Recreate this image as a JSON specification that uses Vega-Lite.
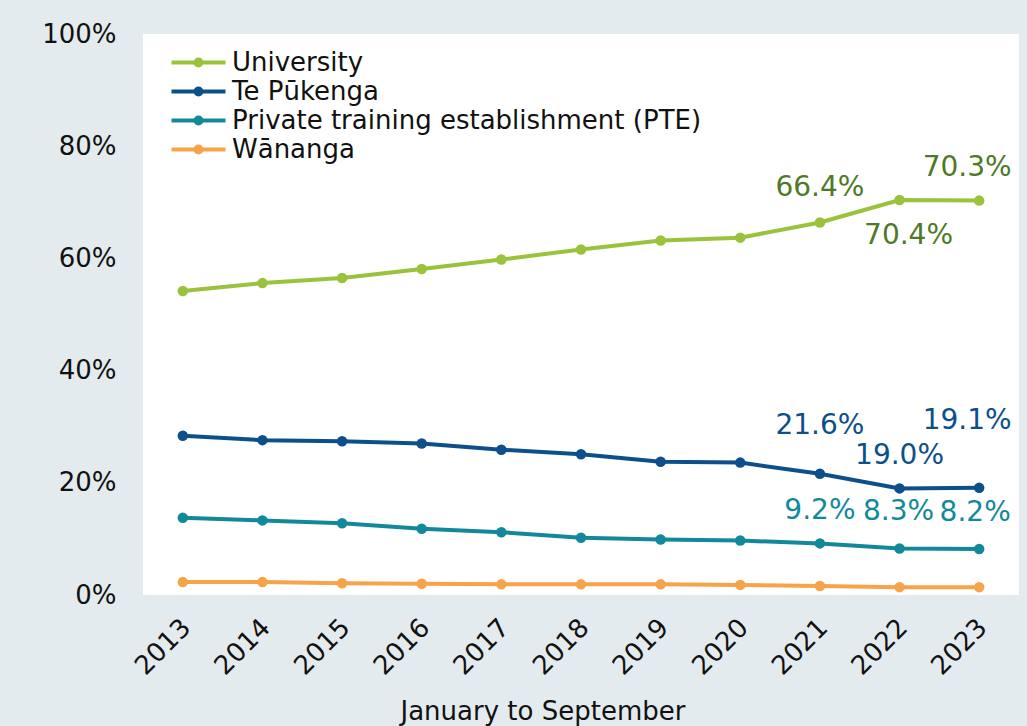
{
  "$schema": "https://vega.github.io/schema/vega-lite/v6.json",
  "width": 876,
  "height": 561,
  "autosize": {"type": "none"},
  "padding": {"left": 143, "top": 34, "right": 8, "bottom": 131},
  "background": "#e4ebef",
  "config": {
    "font": "DejaVu Sans",
    "view": {"fill": "white", "stroke": null}
  },
  "data": {
    "values": [
      {"year": "2013", "series": "University", "value": 0.542},
      {"year": "2014", "series": "University", "value": 0.556},
      {"year": "2015", "series": "University", "value": 0.565},
      {"year": "2016", "series": "University", "value": 0.581},
      {"year": "2017", "series": "University", "value": 0.598},
      {"year": "2018", "series": "University", "value": 0.616},
      {"year": "2019", "series": "University", "value": 0.632},
      {"year": "2020", "series": "University", "value": 0.637},
      {"year": "2021", "series": "University", "value": 0.664},
      {"year": "2022", "series": "University", "value": 0.704},
      {"year": "2023", "series": "University", "value": 0.703},
      {"year": "2013", "series": "Te Pūkenga", "value": 0.284},
      {"year": "2014", "series": "Te Pūkenga", "value": 0.276},
      {"year": "2015", "series": "Te Pūkenga", "value": 0.274},
      {"year": "2016", "series": "Te Pūkenga", "value": 0.270},
      {"year": "2017", "series": "Te Pūkenga", "value": 0.259},
      {"year": "2018", "series": "Te Pūkenga", "value": 0.251},
      {"year": "2019", "series": "Te Pūkenga", "value": 0.2375},
      {"year": "2020", "series": "Te Pūkenga", "value": 0.236},
      {"year": "2021", "series": "Te Pūkenga", "value": 0.216},
      {"year": "2022", "series": "Te Pūkenga", "value": 0.190},
      {"year": "2023", "series": "Te Pūkenga", "value": 0.191},
      {"year": "2013", "series": "Private training establishment (PTE)", "value": 0.1375},
      {"year": "2014", "series": "Private training establishment (PTE)", "value": 0.133},
      {"year": "2015", "series": "Private training establishment (PTE)", "value": 0.128},
      {"year": "2016", "series": "Private training establishment (PTE)", "value": 0.118},
      {"year": "2017", "series": "Private training establishment (PTE)", "value": 0.112},
      {"year": "2018", "series": "Private training establishment (PTE)", "value": 0.102},
      {"year": "2019", "series": "Private training establishment (PTE)", "value": 0.099},
      {"year": "2020", "series": "Private training establishment (PTE)", "value": 0.097},
      {"year": "2021", "series": "Private training establishment (PTE)", "value": 0.092},
      {"year": "2022", "series": "Private training establishment (PTE)", "value": 0.083},
      {"year": "2023", "series": "Private training establishment (PTE)", "value": 0.082},
      {"year": "2013", "series": "Wānanga", "value": 0.023},
      {"year": "2014", "series": "Wānanga", "value": 0.023},
      {"year": "2015", "series": "Wānanga", "value": 0.021},
      {"year": "2016", "series": "Wānanga", "value": 0.020},
      {"year": "2017", "series": "Wānanga", "value": 0.019},
      {"year": "2018", "series": "Wānanga", "value": 0.019},
      {"year": "2019", "series": "Wānanga", "value": 0.019},
      {"year": "2020", "series": "Wānanga", "value": 0.018},
      {"year": "2021", "series": "Wānanga", "value": 0.016},
      {"year": "2022", "series": "Wānanga", "value": 0.014},
      {"year": "2023", "series": "Wānanga", "value": 0.014}
    ]
  },
  "encoding": {
    "x": {
      "field": "year",
      "type": "ordinal",
      "scale": {"type": "point", "padding": 0.5},
      "axis": {
        "title": "January to September",
        "titleFontSize": 26,
        "titleFontWeight": "normal",
        "titleColor": "#111111",
        "titleX": 257,
        "titleY": 124,
        "titleAnchor": "start",
        "titleAlign": "left",
        "titleBaseline": "alphabetic",
        "labelAngle": -45,
        "labelFontSize": 26,
        "labelColor": "#111111",
        "labelPadding": 19,
        "labelOffset": -6,
        "ticks": false,
        "domain": false,
        "grid": false
      }
    },
    "y": {
      "field": "value",
      "type": "quantitative",
      "scale": {"domain": [0, 1], "nice": false},
      "axis": {
        "title": null,
        "values": [0, 0.2, 0.4, 0.6, 0.8, 1],
        "format": ".0%",
        "labelFontSize": 26,
        "labelColor": "#111111",
        "labelPadding": 27,
        "ticks": false,
        "domain": false,
        "grid": false
      }
    }
  },
  "layer": [
    {
      "mark": {"type": "line", "strokeWidth": 4},
      "encoding": {
        "color": {
          "field": "series",
          "type": "nominal",
          "scale": {
            "domain": ["University", "Te Pūkenga", "Private training establishment (PTE)", "Wānanga"],
            "range": ["#9bc23c", "#0d4f8a", "#12899a", "#f6a34a"]
          },
          "legend": {
            "title": null,
            "orient": "none",
            "legendX": 40,
            "legendY": 13,
            "padding": 0,
            "labelFontSize": 26,
            "labelColor": "#111111",
            "labelOffset": 18,
            "labelLimit": 0,
            "symbolType": "M-2,0H2M0.22,0A0.22,0.22 0 1,1 -0.22,0A0.22,0.22 0 1,1 0.22,0Z",
            "symbolSize": 729,
            "symbolStrokeWidth": 4,
            "rowPadding": -0.5,
            "encode": {
              "symbols": {
                "update": {
                  "fill": {"signal": "scale('color', datum.value)"},
                  "fillOpacity": {"value": 1}
                }
              }
            }
          }
        }
      }
    },
    {
      "mark": {"type": "point", "filled": true, "size": 110, "opacity": 1},
      "encoding": {
        "color": {"field": "series", "type": "nominal", "legend": null}
      }
    },
    {
      "transform": [{"filter": "datum.series == 'University' && datum.year == '2021'"}],
      "mark": {"type": "text", "fontSize": 28, "color": "#4e7a27", "baseline": "middle", "dy": -34},
      "encoding": {"text": {"field": "value", "format": ".1%"}}
    },
    {
      "transform": [{"filter": "datum.series == 'University' && datum.year == '2022'"}],
      "mark": {"type": "text", "fontSize": 28, "color": "#4e7a27", "baseline": "middle", "dx": 9, "dy": 36},
      "encoding": {"text": {"field": "value", "format": ".1%"}}
    },
    {
      "transform": [{"filter": "datum.series == 'University' && datum.year == '2023'"}],
      "mark": {"type": "text", "fontSize": 28, "color": "#4e7a27", "baseline": "middle", "dx": -12, "dy": -33},
      "encoding": {"text": {"field": "value", "format": ".1%"}}
    },
    {
      "transform": [{"filter": "datum.series == 'Te Pūkenga' && datum.year == '2021'"}],
      "mark": {"type": "text", "fontSize": 28, "color": "#0d4f8a", "baseline": "middle", "dy": -48},
      "encoding": {"text": {"field": "value", "format": ".1%"}}
    },
    {
      "transform": [{"filter": "datum.series == 'Te Pūkenga' && datum.year == '2022'"}],
      "mark": {"type": "text", "fontSize": 28, "color": "#0d4f8a", "baseline": "middle", "dy": -32},
      "encoding": {"text": {"field": "value", "format": ".1%"}}
    },
    {
      "transform": [{"filter": "datum.series == 'Te Pūkenga' && datum.year == '2023'"}],
      "mark": {"type": "text", "fontSize": 28, "color": "#0d4f8a", "baseline": "middle", "dx": -12, "dy": -67},
      "encoding": {"text": {"field": "value", "format": ".1%"}}
    },
    {
      "transform": [{"filter": "datum.series == 'Private training establishment (PTE)' && datum.year == '2021'"}],
      "mark": {"type": "text", "fontSize": 28, "color": "#12899a", "baseline": "middle", "dy": -32},
      "encoding": {"text": {"field": "value", "format": ".1%"}}
    },
    {
      "transform": [{"filter": "datum.series == 'Private training establishment (PTE)' && datum.year == '2022'"}],
      "mark": {"type": "text", "fontSize": 28, "color": "#12899a", "baseline": "middle", "dx": -1, "dy": -36},
      "encoding": {"text": {"field": "value", "format": ".1%"}}
    },
    {
      "transform": [{"filter": "datum.series == 'Private training establishment (PTE)' && datum.year == '2023'"}],
      "mark": {"type": "text", "fontSize": 28, "color": "#12899a", "baseline": "middle", "dx": -4, "dy": -36},
      "encoding": {"text": {"field": "value", "format": ".1%"}}
    }
  ]
}
